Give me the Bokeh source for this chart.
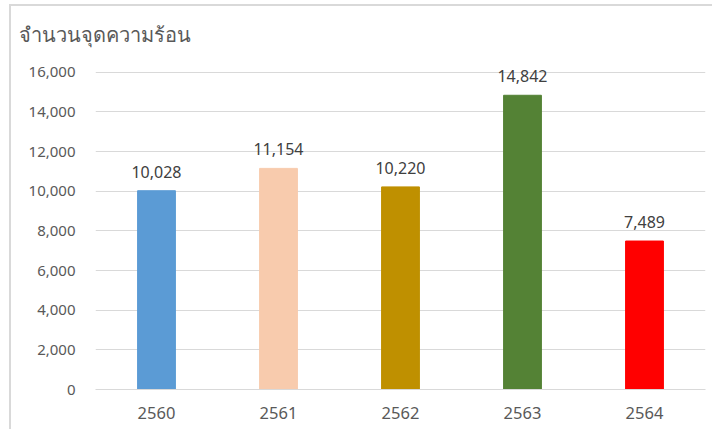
from bokeh.plotting import figure
from bokeh.models import ColumnDataSource, LabelSet, NumeralTickFormatter, FixedTicker, Range1d
from bokeh.core.properties import value
from bokeh.embed import file_html
from bokeh.resources import INLINE

years = ["2560", "2561", "2562", "2563", "2564"]
hotspots = [10028, 11154, 10220, 14842, 7489]
colors = ["#5B9BD5", "#F8CBAD", "#BF9000", "#548235", "#FF0000"]
labels = ["{:,}".format(v) for v in hotspots]
y_ticks = [0, 2000, 4000, 6000, 8000, 10000, 12000, 14000, 16000]

src = ColumnDataSource(dict(x=years, y=hotspots, c=colors, t=labels))

p = figure(x_range=years, y_range=Range1d(0, 17000), width=703, height=425,
           output_backend="svg", toolbar_location=None,
           min_border_left=84, min_border_right=9, min_border_top=46, min_border_bottom=42)
p.styles = {"border-top": "2px solid #D9D9D9", "border-left": "2px solid #D9D9D9",
            "margin-left": "9px", "margin-top": "4px"}

p.title.text = "จำนวนจุดความร้อน"
p.title.text_font = "Noto Sans"
p.title.text_font_size = "20px"
p.title.text_font_style = "normal"
p.title.text_color = "#595959"
p.title.align = "left"
p.title.offset = -77
p.title.standoff = 10

p.vbar(x="x", top="y", width=0.31, color="c", source=src)
p.add_layout(LabelSet(x="x", y="y", text="t", source=src, text_align="center",
                      text_baseline="alphabetic", y_offset=13, text_font_size="16px",
                      text_color="#404040", text_font=value("Noto Sans")))

p.outline_line_color = None
p.xgrid.grid_line_color = None
p.ygrid.grid_line_color = "#D9D9D9"
p.yaxis.ticker = FixedTicker(ticks=y_ticks)
p.yaxis.formatter = NumeralTickFormatter(format="0,0")
p.yaxis.axis_line_color = None
p.yaxis.major_tick_line_color = None
p.yaxis.minor_tick_line_color = None
p.yaxis.major_label_text_font_size = "15px"
p.yaxis.major_label_text_color = "#595959"
p.yaxis.major_label_text_font = "Noto Sans"
p.yaxis.major_label_standoff = 14

p.xaxis.axis_line_color = "#D9D9D9"
p.xaxis.major_tick_line_color = None
p.xaxis.minor_tick_line_color = None
p.xaxis.major_label_text_font_size = "16.5px"
p.xaxis.major_label_text_color = "#595959"
p.xaxis.major_label_text_font = "Noto Sans"
p.xaxis.major_label_standoff = 11
p.x_range.range_padding = 0

open("out.html", "w").write(file_html(p, INLINE))
